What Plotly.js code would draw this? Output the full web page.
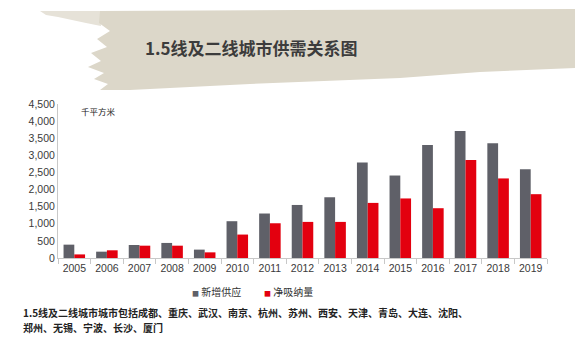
<!DOCTYPE html>
<html><head><meta charset="utf-8">
<script src="https://cdn.plot.ly/plotly-3.0.1.min.js"></script>
<style>html,body{margin:0;padding:0;background:#fff}#chart{width:588px;height:355px}</style>
</head><body><div id="chart"></div>
<script>
const years = ['2005','2006','2007','2008','2009','2010','2011','2012','2013','2014','2015','2016','2017','2018','2019'];
const supply = [390,185,380,440,245,1075,1300,1550,1775,2790,2410,3300,3710,3350,2590];
const absorption = [105,225,360,360,165,685,1015,1055,1055,1610,1740,1455,2860,2325,1865];
const seriesNames = ['新增供应','净吸纳量'];
const seriesColors = ['#5f6068','#e3000f'];

const W=588,H=355,L=58,R=41,T=104,B=97;
const pw=W-L-R, ph=H-T-B;
function px(x){return (x-L)/pw;}
function py(y){return (H-B-y)/ph;}
function pathOf(pts){return 'M '+pts.map(p=>px(p[0]).toFixed(4)+','+py(p[1]).toFixed(4)).join(' L ')+' Z';}
const bannerMain=[[100,11],[300,10],[575,9],[575,68],[480,72],[400,78],[250,84],[130,90],[100,90],[108,84],[94,79],[104,73],[88,67],[101,61],[91,53],[107,47],[97,39],[110,31],[99,23]];
const bannerStreak=[[40,11],[100,11],[101,26],[86,23],[72,20],[58,17],[46,15]];

const cjk='"Noto Sans CJK SC", "Liberation Sans", sans-serif';
const data=[
 {type:'bar',x:years,y:supply,name:seriesNames[0],marker:{color:seriesColors[0]},showlegend:false},
 {type:'bar',x:years,y:absorption,name:seriesNames[1],marker:{color:seriesColors[1]},showlegend:false}
];
const layout={
 width:W,height:H,margin:{l:L,r:R,t:T,b:B},
 paper_bgcolor:'#fff',plot_bgcolor:'#fff',
 barmode:'group',bargap:0.34,bargroupgap:0,
 xaxis:{type:'category',showline:true,linecolor:'#c8c8c8',linewidth:1,ticks:'outside',tickson:'boundaries',ticklen:5,tickcolor:'#c8c8c8',
   tickfont:{family:'"Liberation Sans", Arial, sans-serif',size:10.5,color:'#3a3a3a'},showgrid:false,fixedrange:true},
 yaxis:{range:[0,4500],dtick:500,tickformat:',d',showline:true,linecolor:'#c8c8c8',linewidth:1,showgrid:false,zeroline:false,
   tickfont:{family:'"Liberation Sans", Arial, sans-serif',size:10.5,color:'#3a3a3a'},ticks:'',ticklen:0,fixedrange:true},
 shapes:[
  {type:'path',xref:'paper',yref:'paper',path:pathOf(bannerStreak),fillcolor:'#e6e2d8',line:{width:0},layer:'below'},
  {type:'path',xref:'paper',yref:'paper',path:pathOf(bannerMain),fillcolor:'#dcd7c9',line:{width:0},layer:'below'}
 ],
 annotations:[
  {xref:'paper',yref:'paper',x:px(143),y:py(47),xanchor:'left',yanchor:'middle',text:'<b>1.5线及二线城市供需关系图</b>',showarrow:false,font:{family:cjk,size:17,color:'#3c3c3c'}},
  {xref:'paper',yref:'paper',x:px(79),y:py(111),xanchor:'left',yanchor:'middle',text:'千平方米',showarrow:false,font:{family:cjk,size:8.5,color:'#222'}},
  {xref:'paper',yref:'paper',x:px(190),y:py(291),xanchor:'left',yanchor:'middle',text:'<span style="color:'+seriesColors[0]+';font-size:7px">■</span> '+seriesNames[0],showarrow:false,font:{family:cjk,size:10,color:'#333'}},
  {xref:'paper',yref:'paper',x:px(262),y:py(291),xanchor:'left',yanchor:'middle',text:'<span style="color:'+seriesColors[1]+';font-size:7px">■</span> '+seriesNames[1],showarrow:false,font:{family:cjk,size:10,color:'#333'}},
  {xref:'paper',yref:'paper',x:px(21),y:py(312),xanchor:'left',yanchor:'middle',text:'<b>1.5线及二线城市城市包括成都、重庆、武汉、南京、杭州、苏州、西安、天津、青岛、大连、沈阳、</b>',showarrow:false,font:{family:cjk,size:10,color:'#222'}},
  {xref:'paper',yref:'paper',x:px(21),y:py(327),xanchor:'left',yanchor:'middle',text:'<b>郑州、无锡、宁波、长沙、厦门</b>',showarrow:false,font:{family:cjk,size:10,color:'#222'}}
 ]
};
Plotly.newPlot('chart',data,layout,{displayModeBar:false,staticPlot:true});
</script></body></html>
